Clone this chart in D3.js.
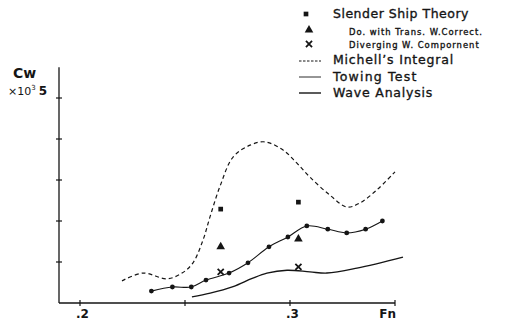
<!DOCTYPE html>
<html>
<head>
<meta charset="utf-8">
<script src="https://cdn.jsdelivr.net/npm/d3@7"></script>
<style>
  body { margin: 0; background: #fff; }
  svg { display: block; font-family: 'DejaVu Sans', 'Liberation Sans', Arial, sans-serif; }
</style>
</head>
<body>
<div id="chart"></div>
<script>
// Michell's integral (dashed)
const michellFn = [0.220, 0.230, 0.2414, 0.2486, 0.2538, 0.2586, 0.2619, 0.2667, 0.2729, 0.2810, 0.2881, 0.2967, 0.3033, 0.3095, 0.3190, 0.3271, 0.3333, 0.3414, 0.3500]
const michellCw = [0.54, 0.73, 0.59, 0.73, 0.98, 1.54, 2.10, 2.85, 3.56, 3.85, 3.93, 3.73, 3.41, 3.07, 2.63, 2.34, 2.44, 2.76, 3.20]

// Towing test (measured points)
const towingFn = [0.234, 0.244, 0.253, 0.260, 0.271, 0.280, 0.290, 0.299, 0.308, 0.318, 0.327, 0.336, 0.344]
const towingCw = [0.29, 0.39, 0.39, 0.56, 0.73, 0.98, 1.37, 1.61, 1.88, 1.80, 1.71, 1.80, 2.00]

// Wave analysis
const waveFn = [0.2533, 0.262, 0.2729, 0.282, 0.289, 0.2986, 0.3095, 0.3176, 0.3319, 0.3538]
const waveCw = [0.15, 0.24, 0.40, 0.60, 0.73, 0.80, 0.76, 0.73, 0.85, 1.12]

// Slender ship theory points
const slenderFn = [0.267, 0.304]
const slenderCw = [2.29, 2.46]
const transCw = [1.37, 1.56]
const divergCw = [0.76, 0.88]

const xTicks = [0.2, 0.25, 0.3, 0.35]
const xTickLabels = { 0.2: '.2', 0.3: '.3' }
const yTicks = [1, 2, 3, 4, 5]

const width = 505
const height = 321
const ink = '#151515'

const svg = d3.select('#chart')
  .append('svg')
  .attr('width', width)
  .attr('height', height)

const x = d3.scaleLinear().domain([0.19, 0.35]).range([59, 395])
const y = d3.scaleLinear().domain([0, 5]).range([303, 98])

// Axes
svg.append('line')
  .attr('x1', x(0.19)).attr('x2', x(0.35))
  .attr('y1', y(0)).attr('y2', y(0))
  .attr('stroke', ink).attr('stroke-width', 1.3)
svg.append('line')
  .attr('x1', x(0.19)).attr('x2', x(0.19))
  .attr('y1', y(0)).attr('y2', y(5.75))
  .attr('stroke', ink).attr('stroke-width', 1.3)

svg.selectAll('line.xtick')
  .data(xTicks)
  .enter().append('line')
  .attr('class', 'xtick')
  .attr('x1', d => x(d)).attr('x2', d => x(d))
  .attr('y1', y(0) - 3).attr('y2', y(0) + 3)
  .attr('stroke', ink).attr('stroke-width', 1.2)

svg.selectAll('line.ytick')
  .data(yTicks)
  .enter().append('line')
  .attr('class', 'ytick')
  .attr('x1', x(0.19) - 3).attr('x2', x(0.19) + 3)
  .attr('y1', d => y(d)).attr('y2', d => y(d))
  .attr('stroke', ink).attr('stroke-width', 1.2)

svg.selectAll('text.xlab')
  .data(xTicks.filter(d => xTickLabels[d]))
  .enter().append('text')
  .attr('class', 'xlab')
  .attr('x', d => x(d) - 4)
  .attr('y', y(0) + 15)
  .attr('font-size', 12).attr('font-weight', 'bold')
  .attr('fill', ink)
  .text(d => xTickLabels[d])

svg.append('text')
  .attr('x', x(0.35) + 1).attr('y', y(0) + 15)
  .attr('text-anchor', 'end')
  .attr('font-size', 12).attr('font-weight', 'bold')
  .attr('fill', ink)
  .text('Fn')

svg.append('text')
  .attr('x', 13).attr('y', 78)
  .attr('font-size', 14).attr('font-weight', 'bold')
  .attr('fill', ink)
  .text('Cw')

const ylab = svg.append('text')
  .attr('x', 8).attr('y', y(5) - 3)
  .attr('font-size', 11)
  .attr('fill', ink)
ylab.append('tspan').text('×10')
ylab.append('tspan').attr('font-size', 7).attr('dy', -5).text('3')
ylab.append('tspan').attr('dy', 5).attr('dx', 3).attr('font-weight', 'bold').attr('font-size', 12).text('5')

// Curves
const line = d3.line()
  .x(d => x(d[0]))
  .y(d => y(d[1]))
  .curve(d3.curveCatmullRom.alpha(0.5))

svg.append('path')
  .datum(d3.zip(michellFn, michellCw))
  .attr('d', line)
  .attr('fill', 'none').attr('stroke', ink)
  .attr('stroke-width', 1.2).attr('stroke-dasharray', '4,3')

svg.append('path')
  .datum(d3.zip(towingFn, towingCw))
  .attr('d', line)
  .attr('fill', 'none').attr('stroke', ink)
  .attr('stroke-width', 1.1)

svg.selectAll('circle.tow')
  .data(d3.zip(towingFn, towingCw))
  .enter().append('circle')
  .attr('class', 'tow')
  .attr('cx', d => x(d[0])).attr('cy', d => y(d[1]))
  .attr('r', 2.4).attr('fill', ink)

svg.append('path')
  .datum(d3.zip(waveFn, waveCw))
  .attr('d', line)
  .attr('fill', 'none').attr('stroke', ink)
  .attr('stroke-width', 1.4)

// Markers
const sq = d3.symbol().type(d3.symbolSquare).size(22)
const tri = d3.symbol().type(d3.symbolTriangle).size(32)
const cross = d3.symbol().type(d3.symbolX).size(26)

svg.selectAll('path.sq')
  .data(d3.zip(slenderFn, slenderCw))
  .enter().append('path')
  .attr('class', 'sq')
  .attr('transform', d => `translate(${x(d[0])},${y(d[1])})`)
  .attr('d', sq).attr('fill', ink)

svg.selectAll('path.tri')
  .data(d3.zip(slenderFn, transCw))
  .enter().append('path')
  .attr('class', 'tri')
  .attr('transform', d => `translate(${x(d[0])},${y(d[1])})`)
  .attr('d', tri).attr('fill', ink)

svg.selectAll('path.xm')
  .data(d3.zip(slenderFn, divergCw))
  .enter().append('path')
  .attr('class', 'xm')
  .attr('transform', d => `translate(${x(d[0])},${y(d[1])})`)
  .attr('d', cross).attr('fill', 'none')
  .attr('stroke', ink).attr('stroke-width', 1.8)

// Legend
const leg = svg.append('g')
leg.append('path').attr('transform', 'translate(306,14)').attr('d', sq).attr('fill', ink)
leg.append('path').attr('transform', 'translate(309,30)').attr('d', tri).attr('fill', ink)
leg.append('path').attr('transform', 'translate(309,44)').attr('d', cross)
  .attr('fill', 'none').attr('stroke', ink).attr('stroke-width', 1.8)

leg.append('line').attr('x1', 299).attr('x2', 321).attr('y1', 61).attr('y2', 61)
  .attr('stroke', ink).attr('stroke-width', 1).attr('stroke-dasharray', '2.5,1.5')
leg.append('line').attr('x1', 299).attr('x2', 321).attr('y1', 77).attr('y2', 77)
  .attr('stroke', ink).attr('stroke-width', 0.9)
leg.append('line').attr('x1', 299).attr('x2', 321).attr('y1', 93).attr('y2', 93)
  .attr('stroke', ink).attr('stroke-width', 1.4)

const legendText = [
  { t: 'Slender Ship Theory', x: 333, y: 18, s: 12.5, ls: 0.5 },
  { t: 'Do.  with Trans. W.Correct.', x: 349, y: 35, s: 8.4, ls: 1.0 },
  { t: 'Diverging W. Compornent', x: 349, y: 48, s: 8.4, ls: 1.0 },
  { t: 'Michell\u2019s Integral', x: 333, y: 64, s: 12.5, ls: 0.8 },
  { t: 'Towing Test', x: 333, y: 81, s: 12.5, ls: 1.2 },
  { t: 'Wave Analysis', x: 333, y: 97, s: 12.5, ls: 0.8 }
]
leg.selectAll('text.lt')
  .data(legendText)
  .enter().append('text')
  .attr('class', 'lt')
  .attr('x', d => d.x).attr('y', d => d.y)
  .attr('font-size', d => d.s)
  .attr('letter-spacing', d => d.ls)
  .attr('fill', ink)
  .attr('stroke', ink).attr('stroke-width', 0.35)
  .text(d => d.t)
</script>
</body>
</html>
